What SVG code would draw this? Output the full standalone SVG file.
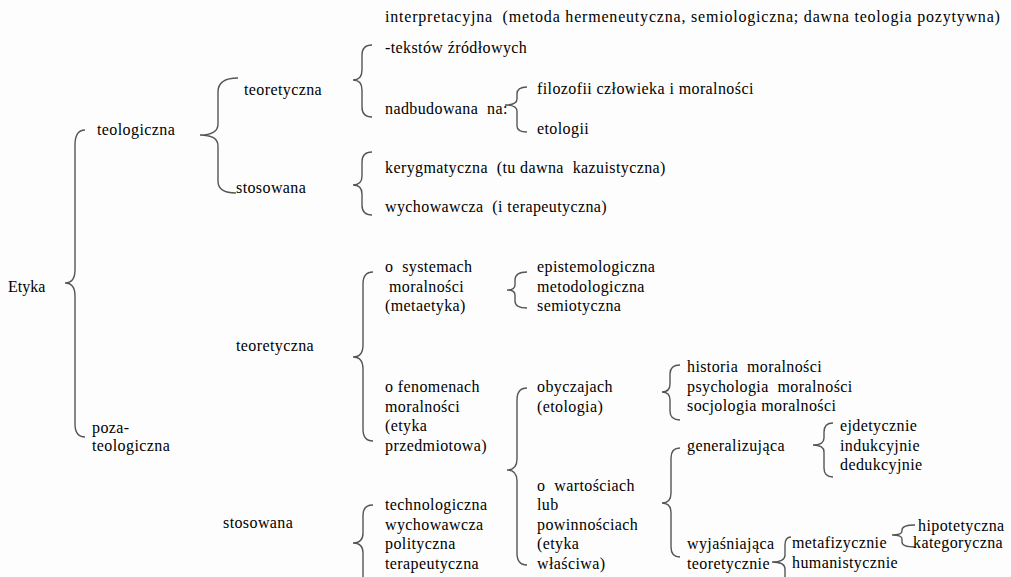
<svg xmlns="http://www.w3.org/2000/svg" width="1011" height="577" viewBox="0 0 1011 577">
<rect width="1011" height="577" fill="#fdfdfd"/>
<g id="connectors" fill="none" stroke="#555" stroke-width="1.4">
<path d="M85 130 Q75 130 75 145 L75 270 Q75 283 65 283 Q75 283 75 296 L75 424 Q75 437 85 437"/>
<path d="M238 78 Q218 78 218 92 L218 124 Q218 135 200 135 Q218 135 218 146 L218 181 Q218 193 236 193"/>
<path d="M372 45 Q362 45 362 55 L362 70 Q362 80 353 80 Q362 80 362 90 L362 107 Q362 117 372 117"/>
<path d="M527 87 Q517 87 517 94 L517 99 Q517 105 505 105 Q517 105 517 111 L517 126 Q517 132 527 132"/>
<path d="M372 152 Q362 152 362 162 L362 176 Q362 185 353 185 Q362 185 362 194 L362 205 Q362 215 372 215"/>
<path d="M527 272 Q515 272 515 280 L515 285 Q515 290 507 290 Q515 290 515 295 L515 301 Q515 308 527 308"/>
<path d="M373 272 Q363 272 363 284 L363 345 Q363 357 353 357 Q363 357 363 369 L363 429 Q363 441 373 441"/>
<path d="M527 388 Q517 388 517 400 L517 459 Q517 470 507 470 Q517 470 517 481 L517 553 Q517 565 527 565"/>
<path d="M680 365 Q670 365 670 374 L670 384 Q670 392 662 392 Q670 392 670 400 L670 411 Q670 420 680 420"/>
<path d="M680 448 Q671 448 671 458 L671 493 Q671 503 662 503 Q671 503 671 513 L671 547 Q671 557 680 557"/>
<path d="M833 423 Q824 423 824 432 L824 438 Q824 445 813 445 Q824 445 824 452 L824 468 Q824 477 833 477"/>
<path d="M791 537 Q785 537 785 545 L785 555 Q785 562 772 562 Q785 562 785 569 L785 590"/>
<path d="M915 525 Q902 525 902 530 L902 531 Q902 535 892 535 Q902 535 902 539 L902 542 Q902 547 915 547"/>
<path d="M373 505 Q363 505 363 515 L363 533 Q363 543 353 543 Q363 543 363 553 L363 590"/>
</g>
<g id="n-etyka"><text x="8" y="292" font-size="16" font-family="Liberation Serif">Etyka</text></g>
<g id="n-teologiczna"><text x="97" y="135" font-size="16" font-family="Liberation Serif" letter-spacing="0.4">teologiczna</text></g>
<g id="n-pozateologiczna"><text x="92" y="433" font-size="16" font-family="Liberation Serif" letter-spacing="0.4">poza-</text><text x="92" y="451" font-size="16" font-family="Liberation Serif" letter-spacing="0.4">teologiczna</text></g>
<g id="n-t-teoretyczna"><text x="244" y="95" font-size="16" font-family="Liberation Serif" letter-spacing="0.4">teoretyczna</text></g>
<g id="n-t-stosowana"><text x="236" y="193" font-size="16" font-family="Liberation Serif" letter-spacing="0.4">stosowana</text></g>
<g id="n-interpretacyjna"><text x="385" y="22" font-size="16" font-family="Liberation Serif" letter-spacing="0.8" xml:space="preserve">interpretacyjna  (metoda hermeneutyczna, semiologiczna; dawna teologia pozytywna)</text></g>
<g id="n-tekstow"><text x="385" y="53" font-size="16" font-family="Liberation Serif" letter-spacing="0.4">-tekstów źródłowych</text></g>
<g id="n-nadbudowana"><text x="385" y="114" font-size="16" font-family="Liberation Serif" letter-spacing="0.4" xml:space="preserve">nadbudowana  na:</text></g>
<g id="n-filozofii"><text x="537" y="94" font-size="16" font-family="Liberation Serif" letter-spacing="0.4">filozofii człowieka i moralności</text></g>
<g id="n-etologii"><text x="537" y="134" font-size="16" font-family="Liberation Serif" letter-spacing="0.4">etologii</text></g>
<g id="n-kerygmatyczna"><text x="385" y="173" font-size="16" font-family="Liberation Serif" letter-spacing="0.4" xml:space="preserve">kerygmatyczna  (tu dawna  kazuistyczna)</text></g>
<g id="n-wychowawcza1"><text x="385" y="212" font-size="16" font-family="Liberation Serif" letter-spacing="0.4" xml:space="preserve">wychowawcza  (i terapeutyczna)</text></g>
<g id="n-p-teoretyczna"><text x="236" y="351" font-size="16" font-family="Liberation Serif" letter-spacing="0.4">teoretyczna</text></g>
<g id="n-p-stosowana"><text x="223" y="528" font-size="16" font-family="Liberation Serif" letter-spacing="0.4">stosowana</text></g>
<g id="n-systemach"><text x="385" y="272" font-size="16" font-family="Liberation Serif" letter-spacing="0.4" xml:space="preserve">o  systemach</text><text x="389" y="292" font-size="16" font-family="Liberation Serif" letter-spacing="0.4">moralności</text><text x="385" y="311" font-size="16" font-family="Liberation Serif" letter-spacing="0.4">(metaetyka)</text></g>
<g id="n-meta-sub"><text x="537" y="272" font-size="16" font-family="Liberation Serif" letter-spacing="0.4">epistemologiczna</text><text x="537" y="292" font-size="16" font-family="Liberation Serif" letter-spacing="0.4">metodologiczna</text><text x="537" y="311" font-size="16" font-family="Liberation Serif" letter-spacing="0.4">semiotyczna</text></g>
<g id="n-fenomenach"><text x="385" y="392" font-size="16" font-family="Liberation Serif" letter-spacing="0.4">o fenomenach</text><text x="385" y="412" font-size="16" font-family="Liberation Serif" letter-spacing="0.4">moralności</text><text x="385" y="431" font-size="16" font-family="Liberation Serif" letter-spacing="0.4">(etyka</text><text x="385" y="451" font-size="16" font-family="Liberation Serif" letter-spacing="0.4">przedmiotowa)</text></g>
<g id="n-obyczajach"><text x="537" y="392" font-size="16" font-family="Liberation Serif" letter-spacing="0.4">obyczajach</text><text x="537" y="412" font-size="16" font-family="Liberation Serif" letter-spacing="0.4">(etologia)</text></g>
<g id="n-historia"><text x="687" y="372" font-size="16" font-family="Liberation Serif" letter-spacing="0.4" xml:space="preserve">historia  moralności</text><text x="687" y="392" font-size="16" font-family="Liberation Serif" letter-spacing="0.4" xml:space="preserve">psychologia  moralności</text><text x="687" y="411" font-size="16" font-family="Liberation Serif" letter-spacing="0.4">socjologia moralności</text></g>
<g id="n-generalizujaca"><text x="687" y="451" font-size="16" font-family="Liberation Serif" letter-spacing="0.4">generalizująca</text></g>
<g id="n-ejdetycznie"><text x="840" y="431" font-size="16" font-family="Liberation Serif" letter-spacing="0.4">ejdetycznie</text><text x="840" y="451" font-size="16" font-family="Liberation Serif" letter-spacing="0.4">indukcyjnie</text><text x="840" y="470" font-size="16" font-family="Liberation Serif" letter-spacing="0.4">dedukcyjnie</text></g>
<g id="n-wartosciach"><text x="537" y="491" font-size="16" font-family="Liberation Serif" letter-spacing="0.4" xml:space="preserve">o  wartościach</text><text x="537" y="510" font-size="16" font-family="Liberation Serif" letter-spacing="0.4">lub</text><text x="537" y="530" font-size="16" font-family="Liberation Serif" letter-spacing="0.4">powinnościach</text><text x="537" y="549" font-size="16" font-family="Liberation Serif" letter-spacing="0.4">(etyka</text><text x="537" y="569" font-size="16" font-family="Liberation Serif" letter-spacing="0.4">właściwa)</text></g>
<g id="n-stos-sub"><text x="385" y="510" font-size="16" font-family="Liberation Serif" letter-spacing="0.4">technologiczna</text><text x="385" y="530" font-size="16" font-family="Liberation Serif" letter-spacing="0.4">wychowawcza</text><text x="385" y="549" font-size="16" font-family="Liberation Serif" letter-spacing="0.4">polityczna</text><text x="385" y="569" font-size="16" font-family="Liberation Serif" letter-spacing="0.4">terapeutyczna</text></g>
<g id="n-wyjasniajaca"><text x="687" y="549" font-size="16" font-family="Liberation Serif" letter-spacing="0.4">wyjaśniająca</text><text x="687" y="569" font-size="16" font-family="Liberation Serif" letter-spacing="0.4">teoretycznie</text></g>
<g id="n-metafizycznie"><text x="792" y="548" font-size="16" font-family="Liberation Serif" letter-spacing="0.4">metafizycznie</text></g>
<g id="n-humanistycznie"><text x="792" y="568" font-size="16" font-family="Liberation Serif" letter-spacing="0.4">humanistycznie</text></g>
<g id="n-hipotetyczna"><text x="918" y="531" font-size="16" font-family="Liberation Serif" letter-spacing="0.4">hipotetyczna</text></g>
<g id="n-kategoryczna"><text x="913" y="548" font-size="16" font-family="Liberation Serif" letter-spacing="0.4">kategoryczna</text></g>
</svg>
